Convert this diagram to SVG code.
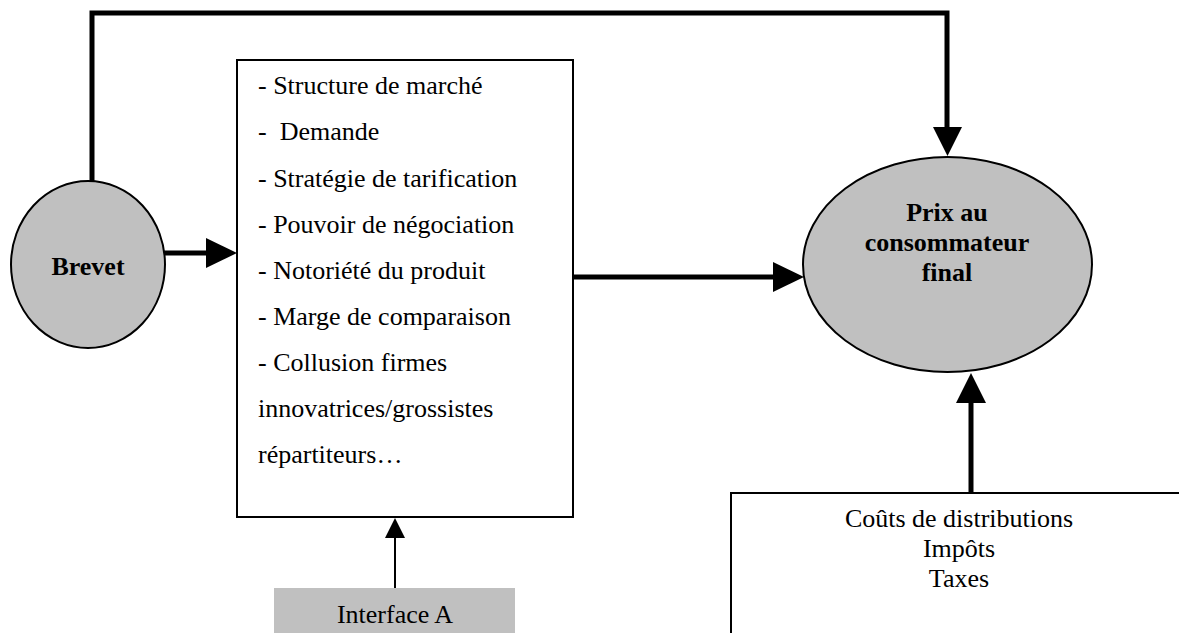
<svg xmlns="http://www.w3.org/2000/svg" width="1179" height="633" viewBox="0 0 1179 633">
<style>
text{font-family:"Liberation Serif","Times New Roman",serif;font-size:26px;fill:#000}
.b{font-weight:bold}
.m{text-anchor:middle}
.pre{white-space:pre}
.node{fill:#c0c0c0;stroke:#000;stroke-width:2}
.box{fill:#fff;stroke:#000;stroke-width:2}
.thick{fill:none;stroke:#000;stroke-width:5;stroke-linejoin:miter}
.thin{fill:none;stroke:#000;stroke-width:2}
.head{fill:#000;stroke:none}
</style>
<rect width="1179" height="633" fill="#fff"/>
<g id="connectors">
  <path class="thick" d="M92,182 V13 H947 V130"/>
  <polygon class="head" points="933,127 962,127 947.5,156"/>
  <line class="thick" x1="164" y1="253" x2="208" y2="253"/>
  <polygon class="head" points="206,238 206,268 237,253"/>
  <line class="thick" x1="574" y1="277" x2="775" y2="277"/>
  <polygon class="head" points="773,262 773,292 804,277"/>
  <line class="thick" x1="971" y1="493" x2="971" y2="400"/>
  <polygon class="head" points="956,403 986,403 971,373"/>
  <line class="thin" x1="395" y1="588" x2="395" y2="536"/>
  <polygon class="head" points="385,538 405,538 395,518"/>
</g>
<g id="brevet">
  <ellipse class="node" cx="88" cy="264.5" rx="77" ry="83.5"/>
  <text class="b m" x="88" y="275">Brevet</text>
</g>
<g id="facteurs">
  <rect class="box" x="237" y="60" width="336" height="457"/>
  <text class="pre" x="258" y="94">- Structure de marché</text>
  <text class="pre" x="258" y="140">-  Demande</text>
  <text class="pre" x="258" y="187">- Stratégie de tarification</text>
  <text class="pre" x="258" y="233">- Pouvoir de négociation</text>
  <text class="pre" x="258" y="279">- Notoriété du produit</text>
  <text class="pre" x="258" y="325">- Marge de comparaison</text>
  <text class="pre" x="258" y="371">- Collusion firmes</text>
  <text class="pre" x="258" y="417">innovatrices/grossistes</text>
  <text class="pre" x="258" y="463">répartiteurs…</text>
</g>
<g id="prix">
  <ellipse class="node" cx="947.5" cy="264.5" rx="144.5" ry="107.5"/>
  <text class="b m" x="947" y="221">Prix au</text>
  <text class="b m" x="947" y="251">consommateur</text>
  <text class="b m" x="947" y="281">final</text>
</g>
<g id="couts">
  <rect class="box" x="731" y="493" width="470" height="160"/>
  <text class="m" x="959" y="527">Coûts de distributions</text>
  <text class="m" x="959" y="557">Impôts</text>
  <text class="m" x="959" y="587">Taxes</text>
</g>
<g id="interface">
  <rect x="274" y="588" width="241" height="50" fill="#c0c0c0"/>
  <text class="m" x="395" y="623">Interface A</text>
</g>
</svg>
